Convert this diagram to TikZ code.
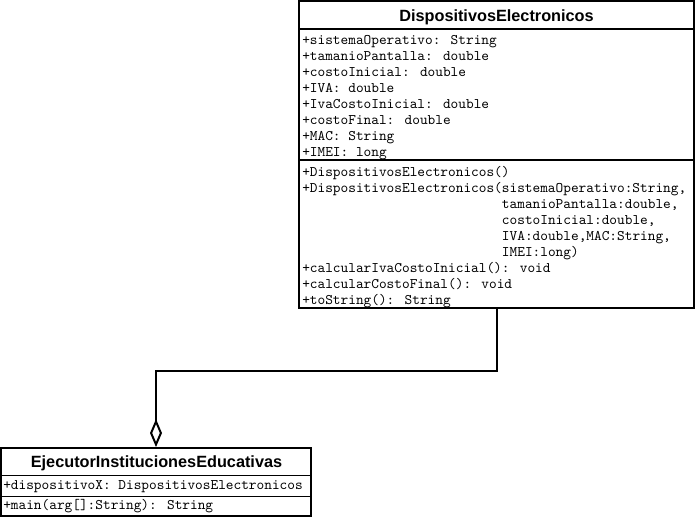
\documentclass[tikz,border=0pt]{standalone}
\usepackage{fontspec}
\newfontfamily\umlsans{Liberation Sans}
\usetikzlibrary{arrows.meta}

\begin{document}
\begin{tikzpicture}[x=0.75pt,y=0.75pt,yscale=-1,
  classbox/.style={draw, line width=1.5pt, inner sep=0pt, fill=white},
  separator/.style={line width=1pt},
  classname/.style={anchor=base, inner sep=0pt, font=\umlsans\bfseries\fontsize{12.2}{14}\selectfont},
  member/.style={anchor=base west, inner sep=0pt, font=\ttfamily\fontsize{10.97}{12}\selectfont},
  aggregation/.style={line width=1.5pt, -{Diamond[fill=white, length=21pt, width=9pt]}}]
\useasboundingbox (0,0) rectangle (697,518);

%Shape: Class [DispositivosElectronicos]
\node [classbox, minimum width=296.25pt, minimum height=230.25pt] (dispositivos) at (496.5,154.5) {};
%Straight Lines [title separator]
\draw [separator] (299,29) -- (694,29) ;
%Straight Lines [attribute separator]
\draw [separator] (299,160) -- (694,160) ;

%Shape: Class [EjecutorInstitucionesEducativas]
\node [classbox, minimum width=232.5pt, minimum height=51pt] (ejecutor) at (156,482) {};
%Straight Lines [title separator]
\draw [separator] (1,475.5) -- (311,475.5) ;
%Straight Lines [attribute separator]
\draw [separator] (1,496.5) -- (311,496.5) ;

%Connector: Aggregation
\draw [aggregation] (dispositivos.south) -- ++(0,62) -| (ejecutor.north) ;

% Text Node
\node [classname] (dispositivosName) at (496.5,21) {DispositivosElectronicos};
% Text Node
\node [member] (attrSistema) at (302,44) {+sistemaOperativo: String};
% Text Node
\node [member] (attrTamanio) at (302,60) {+tamanioPantalla: double};
% Text Node
\node [member] (attrCosto) at (302,76) {+costoInicial: double};
% Text Node
\node [member] (attrIva) at (302,92) {+IVA: double};
% Text Node
\node [member] (attrIvaCosto) at (302,108) {+IvaCostoInicial: double};
% Text Node
\node [member] (attrFinal) at (302,124) {+costoFinal: double};
% Text Node
\node [member] (attrMac) at (302,140) {+MAC: String};
% Text Node
\node [member] (attrImei) at (302,156) {+IMEI: long};
% Text Node
\node [member] (opConstructor) at (302,176) {+DispositivosElectronicos()};
% Text Node
\node [member] (opConstructorArgs) at (302,192) {+DispositivosElectronicos(sistemaOperativo:String,};
% Text Node
\node [member] (opArgsTamanio) at (501.7,208) {tamanioPantalla:double,};
% Text Node
\node [member] (opArgsCosto) at (501.7,224) {costoInicial:double,};
% Text Node
\node [member] (opArgsIva) at (501.7,240) {IVA:double,MAC:String,};
% Text Node
\node [member] (opArgsImei) at (501.7,256) {IMEI:long)};
% Text Node
\node [member] (opCalcularIva) at (302,272) {+calcularIvaCostoInicial(): void};
% Text Node
\node [member] (opCalcularFinal) at (302,288) {+calcularCostoFinal(): void};
% Text Node
\node [member] (opToString) at (302,304) {+toString(): String};

% Text Node
\node [classname] (ejecutorName) at (156.5,467) {EjecutorInstitucionesEducativas};
% Text Node
\node [member] (attrDispositivo) at (3,489) {+dispositivoX: DispositivosElectronicos};
% Text Node
\node [member] (opMain) at (3,509) {+main(arg[]:String): String};

\end{tikzpicture}
\end{document}
